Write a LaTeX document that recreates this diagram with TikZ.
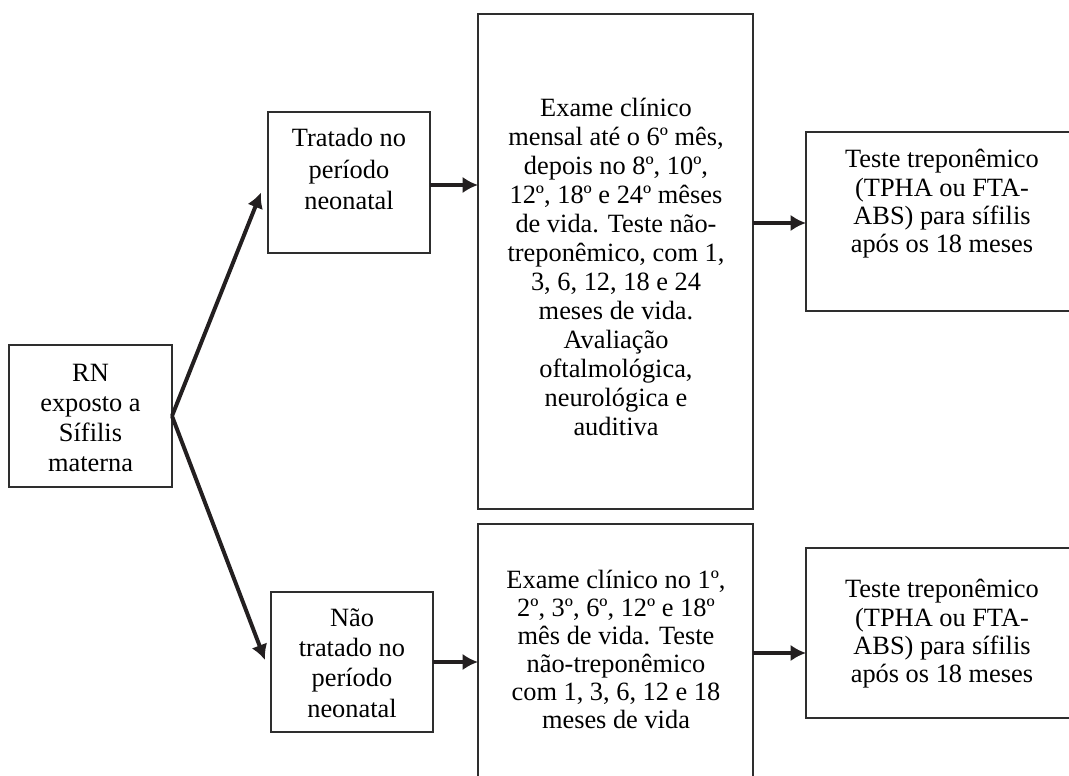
\documentclass[tikz,border=0pt]{standalone}
\usepackage{fontspec}
\setmainfont{Liberation Serif}
\usepackage{xcolor}
\usepackage{tikz}
\usetikzlibrary{arrows.meta,positioning,calc}
\definecolor{FluxoTinta}{HTML}{231F20}
\definecolor{FluxoBorda}{HTML}{2E2E2E}
\newcommand{\pxu}{0.455pt}
\newcommand{\caixa}[4]{%
  \node[draw=FluxoBorda,line width=1pt,inner sep=0pt,outer sep=0pt,
        minimum width=#3,minimum height=#4,at={(#2)}] (#1) {};}
\newcommand{\texto}[4]{%
  \node[align=center,inner sep=0pt,font=\fontsize{12}{#3}\selectfont,
        at={(#2)}] (#1) {#4};}

\begin{document}
\begin{tikzpicture}[x=0.455pt,y=-0.455pt,>={Latex[length=7pt,width=7.5pt]}]
  \clip (0,0) rectangle (1069,776);
  \caixa{rn}{90.5,416}{163*\pxu}{142*\pxu}
  \caixa{tratado}{349,182.5}{162*\pxu}{141*\pxu}
  \caixa{naotratado}{352,662}{162*\pxu}{140*\pxu}
  \caixa{exametop}{615.5,261.5}{275*\pxu}{495*\pxu}
  \caixa{examebot}{615.5,657}{275*\pxu}{266*\pxu}
  \caixa{testetop}{943,221.5}{274*\pxu}{179*\pxu}
  \caixa{testebot}{943,633}{274*\pxu}{170*\pxu}
  % textos
  \texto{rntxt}{90.5,418}{13.65}{RN\\exposto a\\Sífilis\\materna}
  \texto{tratadotxt}{349,169}{14.55}{Tratado no\\período\\neonatal}
  \texto{naotxt}{352,663}{13.8}{Não\\tratado no\\período\\neonatal}
  \texto{exametoptxt}{616,267}{13.2}{Exame clínico\\mensal até o 6º mês,\\depois no 8º, 10º,\\12º, 18º e 24º mêses\\de vida. Teste não-\\treponêmico, com 1,\\3, 6, 12, 18 e 24\\meses de vida.\\Avaliação\\oftalmológica,\\neurológica e\\auditiva}
  \texto{examebottxt}{616,649.5}{12.75}{Exame clínico no 1º,\\2º, 3º, 6º, 12º e 18º\\mês de vida. Teste\\não-treponêmico\\com 1, 3, 6, 12 e 18\\meses de vida}
  \texto{testetoptxt}{942,204}{12.9}{Teste treponêmico\\(TPHA ou FTA-\\ABS) para sífilis\\após os 18 meses}
  \texto{testebottxt}{942,634}{12.9}{Teste treponêmico\\(TPHA ou FTA-\\ABS) para sífilis\\após os 18 meses}
  % setas
  \draw[->,FluxoTinta,line width=1.8pt] (rn.east) -- ($(tratado.west)+(-7,10)$);
  \draw[->,FluxoTinta,line width=1.8pt] (rn.east) -- ($(naotratado.west)+(-6,-2)$);
  \draw[->,FluxoTinta,line width=1.8pt] ($(tratado.east)+(0,2.5)$) -- ($(tratado.east -| exametop.west)+(0,2.5)$);
  \draw[->,FluxoTinta,line width=1.8pt] ($(exametop.east |- testetop.west)+(0,1.5)$) -- ($(testetop.west)+(0,1.5)$);
  \draw[->,FluxoTinta,line width=1.8pt] (naotratado.east) -- (naotratado.east -| examebot.west);
  \draw[->,FluxoTinta,line width=1.8pt] ($(examebot.east |- testebot.west)+(0,20)$) -- ($(testebot.west)+(0,20)$);
\end{tikzpicture}
\end{document}
